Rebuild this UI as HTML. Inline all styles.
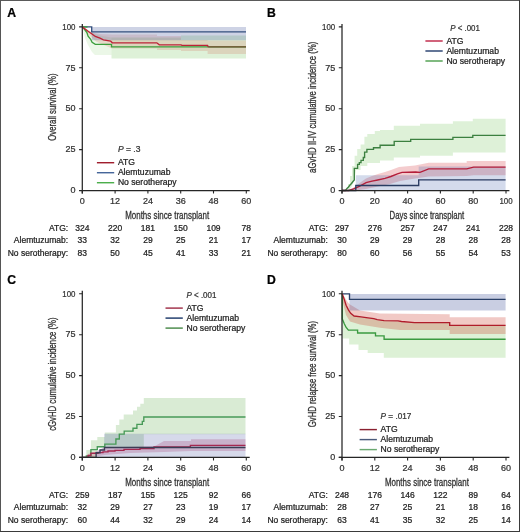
<!DOCTYPE html><html><head><meta charset="utf-8"><style>html,body{margin:0;padding:0;background:#fff;width:520px;height:532px;overflow:hidden;}svg{display:block;will-change:transform;}text{font-family:"Liberation Sans", sans-serif;stroke:currentColor;stroke-width:0.24px;}</style></head><body>
<svg width="520" height="532" viewBox="0 0 520 532">
<rect x="0" y="0" width="520" height="532" fill="#fff"/>
<path d="M82.3,26.9 L85,28 L90,31 L95,34 L100,35.5 L111.5,37.5 L111.5,55 L95,55 L92,52 L88,45 L85,38 L83,30 Z" fill="#64be46" fill-opacity="0.13"/>
<path d="M111.5,37.5 L181,37.5 L181,35.5 L246,35.5 L246,58.6 L111.5,58.6 Z" fill="#64be46" fill-opacity="0.21"/>
<path d="M82.3,26.9 L88,30 L92,32.5 L100,34 L112,34.5 L157,34.5 L157,36 L181,36 L181,40 L207.6,40 L207.6,40.5 L246,40.5 L246,54 L207.6,54 L207.6,51 L181,51 L181,50 L157,50 L157,48.5 L112,48.5 L104,45 L96,41.5 L90,36 L86,31 Z" fill="#cd3c2d" fill-opacity="0.16"/>
<path d="M91.8,27.1 L246,27.1 L246,40.2 L91.8,40.2 Z" fill="#3c5096" fill-opacity="0.25"/>
<path d="M82.3,26.9 L83.5,28 L86.9,32.5 L88.1,36.1 L90.5,39 L92.1,42.2 L95.3,44.3 H111.5 V46.9 H246" stroke="#3c9e3c" stroke-width="1.35" fill="none" stroke-linejoin="miter"/>
<path d="M82.3,26.9 H91.7 V31.8 H246" stroke="#34507e" stroke-width="1.35" fill="none" stroke-linejoin="miter"/>
<path d="M82.3,26.9 H87.5" stroke="#3c9e3c" stroke-width="1.35" fill="none" stroke-linejoin="miter"/>
<path d="M82.3,26.9 L88,31.3 L92,34 L95.3,36.5 L100,38.2 L103.4,39.8 L110.7,41.2 L112.3,42.8 H156.8 L159.3,44.8 H181 L182,45.4 H207.6 L208.2,46.9" stroke="#bc2236" stroke-width="1.35" fill="none" stroke-linejoin="miter"/>
<path d="M208.2,46.9 H246" stroke="#7a4a30" stroke-width="1.35" fill="none" stroke-linejoin="miter"/>
<text x="117.9" y="152.39999999999998" font-size="8.5" fill="#333333" color="#333333" textLength="22.5" lengthAdjust="spacingAndGlyphs"><tspan font-style="italic">P</tspan> = .3</text>
<path d="M96.9,162.70 H114.2" stroke="#a01e2e" stroke-width="1.45"/>
<text x="117.9" y="165.30" font-size="8.6" fill="#222" color="#222">ATG</text>
<path d="M96.9,172.70 H114.2" stroke="#46669a" stroke-width="1.45"/>
<text x="117.9" y="175.30" font-size="8.6" fill="#222" color="#222">Alemtuzumab</text>
<path d="M96.9,182.70 H114.2" stroke="#4cae4c" stroke-width="1.45"/>
<text x="117.9" y="185.30" font-size="8.6" fill="#222" color="#222">No serotherapy</text>
<path d="M346,190.5 L348,190.5 L348,184 L350,184 L350,176 L352,176 L352,166 L354.6,166 L354.6,155.8 L357.2,155.8 L357.2,148.9 L360.6,148.9 L360.6,144.4 L364.4,144.4 L364.4,136.8 L367.3,136.8 L367.3,133.9 L374.8,133.9 L374.8,131 L380,131 L380,129.9 L393.8,129.9 L393.8,125.8 L420,125.8 L420,123.8 L452.9,123.8 L452.9,121.2 L472.8,121.2 L472.8,118.7 L505.6,118.7 L505.6,152.4 L452.9,152.4 L452.9,155.8 L420,155.8 L420,157.5 L393.8,157.5 L393.8,160.5 L380,160.5 L380,163 L367.3,163 L367.3,166 L360.6,166 L360.6,170 L356,170 L354.6,178 L352,186 L349,190.5 Z" fill="#64be46" fill-opacity="0.21"/>
<path d="M348,190.5 L352,188.5 L356,186 L361,182 L366,178.5 L372,176 L378,174 L385,172 L391,170 L399,167 L415,165.5 L428.7,162.8 L466.7,162.8 L466.7,161 L505.6,161 L505.6,175.2 L473.6,175.2 L466.7,176 L428.7,176.5 L415,178.5 L400,181 L390,184 L378,186.5 L366,189 L356,190.5 Z" fill="#d2323c" fill-opacity="0.25"/>
<path d="M355.8,190.5 L355.8,175.3 L418.7,175.3 L418.7,166.5 L505.6,166.5 L505.6,190.5 Z" fill="#3c5aaa" fill-opacity="0.22"/>
<path d="M342,190.5 H345.4 L347,188.5 L348.5,187 L350,185 L351.5,183.5 L353,181.5 L354.3,179.9 V168.4 H357.6 V164.3 H359.3 V162.6 H361 V160.3 H363.3 V157.5 H364.6 V152.1 H366.9 V149.3 H373.5 V147.7 H380.1 V145.2 H394.2 V141.4 H410.7 V139.4 H452.9 V137.3 H472.8 V135.4 H505.6" stroke="#3c8040" stroke-width="1.35" fill="none" stroke-linejoin="miter"/>
<path d="M342,190.5 H348.9 L353.5,188.9 L359.3,186.3 L366.1,182.7 L372,181.2 L377.7,180 L385,178.3 L390.9,176.5 L397.4,173.9 L402,172.4 L415.7,172 L420,172.3 L428.7,168.8 H466.7 L473.6,167.1 H505.6" stroke="#b41e3a" stroke-width="1.35" fill="none" stroke-linejoin="miter"/>
<path d="M342,190.5 H355.8 V185.5 H418.7 V179.8 H505.6" stroke="#2a3c62" stroke-width="1.35" fill="none" stroke-linejoin="miter"/>
<text x="450.29999999999995" y="30.7" font-size="8.5" fill="#333333" color="#333333" textLength="29.6" lengthAdjust="spacingAndGlyphs"><tspan font-style="italic">P</tspan> &lt; .001</text>
<path d="M425.4,41.00 H442.7" stroke="#c02848" stroke-width="1.45"/>
<text x="446.4" y="43.60" font-size="8.6" fill="#222" color="#222">ATG</text>
<path d="M425.4,51.00 H442.7" stroke="#284070" stroke-width="1.45"/>
<text x="446.4" y="53.60" font-size="8.6" fill="#222" color="#222">Alemtuzumab</text>
<path d="M425.4,61.00 H442.7" stroke="#50a050" stroke-width="1.45"/>
<text x="446.4" y="63.60" font-size="8.6" fill="#222" color="#222">No serotherapy</text>
<path d="M82.3,457.4 L86.3,457.4 L86.3,450 L90.9,450 L90.9,440.3 L97.3,440.3 L97.3,437 L104.8,437 L104.8,432.5 L115.9,432.5 L115.9,425 L119.3,425 L119.3,419.4 L123.7,419.4 L123.7,414.5 L133,414.5 L133,410.6 L137,410.6 L137,406.7 L140.3,406.7 L140.3,403.8 L143.8,403.8 L143.8,397.9 L245.5,397.9 L245.5,434.3 L143.8,434.3 L143.8,447.5 L97,447.5 L97,457.4 Z" fill="#5aaa46" fill-opacity="0.23"/>
<path d="M88,457.4 L88,454 L96,451.5 L105,447.5 L124,447 L155,446 L164,441 L191,441 L191,439.2 L245.5,439.2 L245.5,451 L191,451 L164,452 L130,453 L105,455 L96,456.5 L90,457.4 Z" fill="#be3264" fill-opacity="0.25"/>
<path d="M96.1,457.4 L96.1,452 L104.2,447 L104.2,433.8 L245.5,433.8 L245.5,457.4 Z" fill="#4650a0" fill-opacity="0.22"/>
<path d="M82.3,457.4 H86.3 V455.9 H90.9 V449.6 H97.3 V446.7 H104.8 V444.1 H115.9 V439 H119.3 V434.1 H124.2 V431.1 H133 V428.2 H136.9 V424.3 H142.3 V421.4 H143.8 V417 H245.5" stroke="#489a58" stroke-width="1.35" fill="none" stroke-linejoin="miter"/>
<path d="M82.3,457.4 H88 V455.5 H90.9 V453.2 H98 V452.6 H103 V451.8 H108 V451 H115 V450.4 H124 V449.4 H140 V448.6 H154 V446.8 H190.4 V445.3 H245.5" stroke="#a52850" stroke-width="1.35" fill="none" stroke-linejoin="miter"/>
<path d="M82.3,457.4 H96.1 V452.7 H100 V450 H104.5 V447.5 H245.5" stroke="#3a3d55" stroke-width="1.35" fill="none" stroke-linejoin="miter"/>
<text x="186.5" y="297.8" font-size="8.5" fill="#333333" color="#333333" textLength="29.9" lengthAdjust="spacingAndGlyphs"><tspan font-style="italic">P</tspan> &lt; .001</text>
<path d="M165.5,308.10 H182.8" stroke="#a03048" stroke-width="1.45"/>
<text x="186.5" y="310.70" font-size="8.6" fill="#222" color="#222">ATG</text>
<path d="M165.5,318.10 H182.8" stroke="#1e3a6a" stroke-width="1.45"/>
<text x="186.5" y="320.70" font-size="8.6" fill="#222" color="#222">Alemtuzumab</text>
<path d="M165.5,328.10 H182.8" stroke="#4a8a4a" stroke-width="1.45"/>
<text x="186.5" y="330.70" font-size="8.6" fill="#222" color="#222">No serotherapy</text>
<path d="M342.3,294 L343,297 L344.3,300 L346.1,306 L348.4,310.5 L350.7,314 L354.1,316.5 L361,317.3 L368,318.3 L373.8,319.1 L377.2,320.2 L384.1,321.1 L398,321.4 L401.5,322 L414.6,323.1 L449.7,323.1 L449.7,325.8 L505.6,325.8 L505.6,357.7 L383.8,357.7 L383.8,353 L367.7,353 L367.7,350 L358.5,350 L358.5,344.6 L349.2,344.6 L349.2,338.5 L342.3,338.5 Z" fill="#64be46" fill-opacity="0.22"/>
<path d="M342.3,293.8 L344,296 L346,299.5 L348,302.5 L350,304.6 L355,307.5 L360,310.5 L380,313.6 L449.7,314.3 L449.7,317.2 L505.6,317.2 L505.6,334 L449.7,334 L449.7,330 L400,330 L380,327.7 L360,324.6 L350,321.5 L346,315 L343,303 L342.3,295 Z" fill="#cd3c2d" fill-opacity="0.28"/>
<path d="M349.5,294.1 L505.6,294.1 L505.6,310.6 L349.5,310.6 Z" fill="#3c5096" fill-opacity="0.28"/>
<path d="M342.3,293.8 V319 L344.3,323.8 L346,327.2 L348.4,330.1 H357.6 V333 H375.5 V335.9 H384.1 V339.2 H505.6" stroke="#3a9a40" stroke-width="1.35" fill="none" stroke-linejoin="miter"/>
<path d="M342.3,293.8 H349.5 V299.4 H505.6" stroke="#2a4068" stroke-width="1.35" fill="none" stroke-linejoin="miter"/>
<path d="M342.3,293.8 L343,296 L344.3,299.5 L346.1,305.3 L348.4,309.9 L350.7,313.4 L354.1,316 L361,316.8 L368,317.8 L373.8,318.6 L377.2,319.7 L384.1,320.6 L398,320.9 L401.5,321.5 L414.6,322.6 H449.7 V325.3 H505.6" stroke="#b01c2a" stroke-width="1.35" fill="none" stroke-linejoin="miter"/>
<text x="380.6" y="419.3" font-size="8.5" fill="#333333" color="#333333" textLength="30.8" lengthAdjust="spacingAndGlyphs"><tspan font-style="italic">P</tspan> = .017</text>
<path d="M359.6,429.60 H376.90000000000003" stroke="#8a2030" stroke-width="1.45"/>
<text x="380.6" y="432.20" font-size="8.6" fill="#222" color="#222">ATG</text>
<path d="M359.6,439.60 H376.90000000000003" stroke="#4a5a7a" stroke-width="1.45"/>
<text x="380.6" y="442.20" font-size="8.6" fill="#222" color="#222">Alemtuzumab</text>
<path d="M359.6,449.60 H376.90000000000003" stroke="#6aa870" stroke-width="1.45"/>
<text x="380.6" y="452.20" font-size="8.6" fill="#222" color="#222">No serotherapy</text>
<text x="7.2" y="17.0" font-size="12.2" fill="#000" color="#000" font-weight="bold">A</text>
<path d="M82.3,23.9 V193.5 M79.1,190.5 H249.70000000000002" stroke="#262626" stroke-width="1.25" fill="none"/>
<path d="M79.1,190.50 H82.3 M79.1,149.60 H82.3 M79.1,108.70 H82.3 M79.1,67.80 H82.3 M79.1,26.90 H82.3 M82.30,190.5 V193.5 M115.10,190.5 V193.5 M147.90,190.5 V193.5 M180.70,190.5 V193.5 M213.50,190.5 V193.5 M246.30,190.5 V193.5 " stroke="#262626" stroke-width="1.1" fill="none"/>
<text x="75.5" y="193.20" font-size="9.0" fill="#333333" color="#333333" text-anchor="end">0</text>
<text x="75.5" y="152.30" font-size="9.0" fill="#333333" color="#333333" text-anchor="end">25</text>
<text x="75.5" y="111.40" font-size="9.0" fill="#333333" color="#333333" text-anchor="end">50</text>
<text x="75.5" y="70.50" font-size="9.0" fill="#333333" color="#333333" text-anchor="end">75</text>
<text x="75.5" y="29.60" font-size="9.0" fill="#333333" color="#333333" text-anchor="end" textLength="13.2" lengthAdjust="spacingAndGlyphs">100</text>
<text x="82.30" y="204.3" font-size="9.0" fill="#333333" color="#333333" text-anchor="middle">0</text>
<text x="115.10" y="204.3" font-size="9.0" fill="#333333" color="#333333" text-anchor="middle">12</text>
<text x="147.90" y="204.3" font-size="9.0" fill="#333333" color="#333333" text-anchor="middle">24</text>
<text x="180.70" y="204.3" font-size="9.0" fill="#333333" color="#333333" text-anchor="middle">36</text>
<text x="213.50" y="204.3" font-size="9.0" fill="#333333" color="#333333" text-anchor="middle">48</text>
<text x="246.30" y="204.3" font-size="9.0" fill="#333333" color="#333333" text-anchor="middle">60</text>
<text x="125.2" y="218.6" font-size="10.4" fill="#333333" color="#333333" textLength="84" lengthAdjust="spacingAndGlyphs" style="stroke-width:0.3px">Months since transplant</text>
<text transform="translate(56.4,107.1) rotate(-90)" font-size="10.4" fill="#333333" color="#333333" style="stroke-width:0.3px" text-anchor="middle" textLength="67.2" lengthAdjust="spacingAndGlyphs">Overall survival (%)</text>
<text x="68.2" y="231.00" font-size="8.5" fill="#222" color="#222" text-anchor="end">ATG:</text>
<text x="82.30" y="231.00" font-size="8.5" fill="#222" color="#222" text-anchor="middle">324</text>
<text x="115.10" y="231.00" font-size="8.5" fill="#222" color="#222" text-anchor="middle">220</text>
<text x="147.90" y="231.00" font-size="8.5" fill="#222" color="#222" text-anchor="middle">181</text>
<text x="180.70" y="231.00" font-size="8.5" fill="#222" color="#222" text-anchor="middle">150</text>
<text x="213.50" y="231.00" font-size="8.5" fill="#222" color="#222" text-anchor="middle">109</text>
<text x="246.30" y="231.00" font-size="8.5" fill="#222" color="#222" text-anchor="middle">78</text>
<text x="68.2" y="243.35" font-size="8.5" fill="#222" color="#222" text-anchor="end">Alemtuzumab:</text>
<text x="82.30" y="243.35" font-size="8.5" fill="#222" color="#222" text-anchor="middle">33</text>
<text x="115.10" y="243.35" font-size="8.5" fill="#222" color="#222" text-anchor="middle">32</text>
<text x="147.90" y="243.35" font-size="8.5" fill="#222" color="#222" text-anchor="middle">29</text>
<text x="180.70" y="243.35" font-size="8.5" fill="#222" color="#222" text-anchor="middle">25</text>
<text x="213.50" y="243.35" font-size="8.5" fill="#222" color="#222" text-anchor="middle">21</text>
<text x="246.30" y="243.35" font-size="8.5" fill="#222" color="#222" text-anchor="middle">17</text>
<text x="68.2" y="255.70" font-size="8.5" fill="#222" color="#222" text-anchor="end">No serotherapy:</text>
<text x="82.30" y="255.70" font-size="8.5" fill="#222" color="#222" text-anchor="middle">83</text>
<text x="115.10" y="255.70" font-size="8.5" fill="#222" color="#222" text-anchor="middle">50</text>
<text x="147.90" y="255.70" font-size="8.5" fill="#222" color="#222" text-anchor="middle">45</text>
<text x="180.70" y="255.70" font-size="8.5" fill="#222" color="#222" text-anchor="middle">41</text>
<text x="213.50" y="255.70" font-size="8.5" fill="#222" color="#222" text-anchor="middle">33</text>
<text x="246.30" y="255.70" font-size="8.5" fill="#222" color="#222" text-anchor="middle">21</text>
<text x="266.9" y="17.0" font-size="12.2" fill="#000" color="#000" font-weight="bold">B</text>
<path d="M342.0,23.9 V193.5 M338.8,190.5 H509.4" stroke="#262626" stroke-width="1.25" fill="none"/>
<path d="M338.8,190.50 H342.0 M338.8,149.60 H342.0 M338.8,108.70 H342.0 M338.8,67.80 H342.0 M338.8,26.90 H342.0 M342.00,190.5 V193.5 M374.80,190.5 V193.5 M407.60,190.5 V193.5 M440.40,190.5 V193.5 M473.20,190.5 V193.5 M506.00,190.5 V193.5 " stroke="#262626" stroke-width="1.1" fill="none"/>
<text x="335.2" y="193.20" font-size="9.0" fill="#333333" color="#333333" text-anchor="end">0</text>
<text x="335.2" y="152.30" font-size="9.0" fill="#333333" color="#333333" text-anchor="end">25</text>
<text x="335.2" y="111.40" font-size="9.0" fill="#333333" color="#333333" text-anchor="end">50</text>
<text x="335.2" y="70.50" font-size="9.0" fill="#333333" color="#333333" text-anchor="end">75</text>
<text x="335.2" y="29.60" font-size="9.0" fill="#333333" color="#333333" text-anchor="end" textLength="13.2" lengthAdjust="spacingAndGlyphs">100</text>
<text x="342.00" y="204.3" font-size="9.0" fill="#333333" color="#333333" text-anchor="middle">0</text>
<text x="374.80" y="204.3" font-size="9.0" fill="#333333" color="#333333" text-anchor="middle">20</text>
<text x="407.60" y="204.3" font-size="9.0" fill="#333333" color="#333333" text-anchor="middle">40</text>
<text x="440.40" y="204.3" font-size="9.0" fill="#333333" color="#333333" text-anchor="middle">60</text>
<text x="473.20" y="204.3" font-size="9.0" fill="#333333" color="#333333" text-anchor="middle">80</text>
<text x="506.00" y="204.3" font-size="9.0" fill="#333333" color="#333333" text-anchor="middle" textLength="13.2" lengthAdjust="spacingAndGlyphs">100</text>
<text x="389.6" y="218.6" font-size="10.4" fill="#333333" color="#333333" textLength="74.6" lengthAdjust="spacingAndGlyphs" style="stroke-width:0.3px">Days since transplant</text>
<text transform="translate(316.09999999999997,107.3) rotate(-90)" font-size="10.4" fill="#333333" color="#333333" style="stroke-width:0.3px" text-anchor="middle" textLength="131.2" lengthAdjust="spacingAndGlyphs">aGvHD II-IV cumulative incidence (%)</text>
<text x="327.9" y="231.00" font-size="8.5" fill="#222" color="#222" text-anchor="end">ATG:</text>
<text x="342.00" y="231.00" font-size="8.5" fill="#222" color="#222" text-anchor="middle">297</text>
<text x="374.80" y="231.00" font-size="8.5" fill="#222" color="#222" text-anchor="middle">276</text>
<text x="407.60" y="231.00" font-size="8.5" fill="#222" color="#222" text-anchor="middle">257</text>
<text x="440.40" y="231.00" font-size="8.5" fill="#222" color="#222" text-anchor="middle">247</text>
<text x="473.20" y="231.00" font-size="8.5" fill="#222" color="#222" text-anchor="middle">241</text>
<text x="506.00" y="231.00" font-size="8.5" fill="#222" color="#222" text-anchor="middle">228</text>
<text x="327.9" y="243.35" font-size="8.5" fill="#222" color="#222" text-anchor="end">Alemtuzumab:</text>
<text x="342.00" y="243.35" font-size="8.5" fill="#222" color="#222" text-anchor="middle">30</text>
<text x="374.80" y="243.35" font-size="8.5" fill="#222" color="#222" text-anchor="middle">29</text>
<text x="407.60" y="243.35" font-size="8.5" fill="#222" color="#222" text-anchor="middle">29</text>
<text x="440.40" y="243.35" font-size="8.5" fill="#222" color="#222" text-anchor="middle">28</text>
<text x="473.20" y="243.35" font-size="8.5" fill="#222" color="#222" text-anchor="middle">28</text>
<text x="506.00" y="243.35" font-size="8.5" fill="#222" color="#222" text-anchor="middle">28</text>
<text x="327.9" y="255.70" font-size="8.5" fill="#222" color="#222" text-anchor="end">No serotherapy:</text>
<text x="342.00" y="255.70" font-size="8.5" fill="#222" color="#222" text-anchor="middle">80</text>
<text x="374.80" y="255.70" font-size="8.5" fill="#222" color="#222" text-anchor="middle">60</text>
<text x="407.60" y="255.70" font-size="8.5" fill="#222" color="#222" text-anchor="middle">56</text>
<text x="440.40" y="255.70" font-size="8.5" fill="#222" color="#222" text-anchor="middle">55</text>
<text x="473.20" y="255.70" font-size="8.5" fill="#222" color="#222" text-anchor="middle">54</text>
<text x="506.00" y="255.70" font-size="8.5" fill="#222" color="#222" text-anchor="middle">53</text>
<text x="7.2" y="283.9" font-size="12.2" fill="#000" color="#000" font-weight="bold">C</text>
<path d="M82.3,290.79999999999995 V460.4 M79.1,457.4 H249.70000000000002" stroke="#262626" stroke-width="1.25" fill="none"/>
<path d="M79.1,457.40 H82.3 M79.1,416.50 H82.3 M79.1,375.60 H82.3 M79.1,334.70 H82.3 M79.1,293.80 H82.3 M82.30,457.4 V460.4 M115.10,457.4 V460.4 M147.90,457.4 V460.4 M180.70,457.4 V460.4 M213.50,457.4 V460.4 M246.30,457.4 V460.4 " stroke="#262626" stroke-width="1.1" fill="none"/>
<text x="75.5" y="460.10" font-size="9.0" fill="#333333" color="#333333" text-anchor="end">0</text>
<text x="75.5" y="419.20" font-size="9.0" fill="#333333" color="#333333" text-anchor="end">25</text>
<text x="75.5" y="378.30" font-size="9.0" fill="#333333" color="#333333" text-anchor="end">50</text>
<text x="75.5" y="337.40" font-size="9.0" fill="#333333" color="#333333" text-anchor="end">75</text>
<text x="75.5" y="296.50" font-size="9.0" fill="#333333" color="#333333" text-anchor="end" textLength="13.2" lengthAdjust="spacingAndGlyphs">100</text>
<text x="82.30" y="471.2" font-size="9.0" fill="#333333" color="#333333" text-anchor="middle">0</text>
<text x="115.10" y="471.2" font-size="9.0" fill="#333333" color="#333333" text-anchor="middle">12</text>
<text x="147.90" y="471.2" font-size="9.0" fill="#333333" color="#333333" text-anchor="middle">24</text>
<text x="180.70" y="471.2" font-size="9.0" fill="#333333" color="#333333" text-anchor="middle">36</text>
<text x="213.50" y="471.2" font-size="9.0" fill="#333333" color="#333333" text-anchor="middle">48</text>
<text x="246.30" y="471.2" font-size="9.0" fill="#333333" color="#333333" text-anchor="middle">60</text>
<text x="125.2" y="485.5" font-size="10.4" fill="#333333" color="#333333" textLength="84" lengthAdjust="spacingAndGlyphs" style="stroke-width:0.3px">Months since transplant</text>
<text transform="translate(56.4,374.09999999999997) rotate(-90)" font-size="10.4" fill="#333333" color="#333333" style="stroke-width:0.3px" text-anchor="middle" textLength="113.4" lengthAdjust="spacingAndGlyphs">cGvHD cumulative incidence (%)</text>
<text x="68.2" y="497.90" font-size="8.5" fill="#222" color="#222" text-anchor="end">ATG:</text>
<text x="82.30" y="497.90" font-size="8.5" fill="#222" color="#222" text-anchor="middle">259</text>
<text x="115.10" y="497.90" font-size="8.5" fill="#222" color="#222" text-anchor="middle">187</text>
<text x="147.90" y="497.90" font-size="8.5" fill="#222" color="#222" text-anchor="middle">155</text>
<text x="180.70" y="497.90" font-size="8.5" fill="#222" color="#222" text-anchor="middle">125</text>
<text x="213.50" y="497.90" font-size="8.5" fill="#222" color="#222" text-anchor="middle">92</text>
<text x="246.30" y="497.90" font-size="8.5" fill="#222" color="#222" text-anchor="middle">66</text>
<text x="68.2" y="510.25" font-size="8.5" fill="#222" color="#222" text-anchor="end">Alemtuzumab:</text>
<text x="82.30" y="510.25" font-size="8.5" fill="#222" color="#222" text-anchor="middle">32</text>
<text x="115.10" y="510.25" font-size="8.5" fill="#222" color="#222" text-anchor="middle">29</text>
<text x="147.90" y="510.25" font-size="8.5" fill="#222" color="#222" text-anchor="middle">27</text>
<text x="180.70" y="510.25" font-size="8.5" fill="#222" color="#222" text-anchor="middle">23</text>
<text x="213.50" y="510.25" font-size="8.5" fill="#222" color="#222" text-anchor="middle">19</text>
<text x="246.30" y="510.25" font-size="8.5" fill="#222" color="#222" text-anchor="middle">17</text>
<text x="68.2" y="522.60" font-size="8.5" fill="#222" color="#222" text-anchor="end">No serotherapy:</text>
<text x="82.30" y="522.60" font-size="8.5" fill="#222" color="#222" text-anchor="middle">60</text>
<text x="115.10" y="522.60" font-size="8.5" fill="#222" color="#222" text-anchor="middle">44</text>
<text x="147.90" y="522.60" font-size="8.5" fill="#222" color="#222" text-anchor="middle">32</text>
<text x="180.70" y="522.60" font-size="8.5" fill="#222" color="#222" text-anchor="middle">29</text>
<text x="213.50" y="522.60" font-size="8.5" fill="#222" color="#222" text-anchor="middle">24</text>
<text x="246.30" y="522.60" font-size="8.5" fill="#222" color="#222" text-anchor="middle">14</text>
<text x="266.9" y="283.9" font-size="12.2" fill="#000" color="#000" font-weight="bold">D</text>
<path d="M342.0,290.79999999999995 V460.4 M338.8,457.4 H509.4" stroke="#262626" stroke-width="1.25" fill="none"/>
<path d="M338.8,457.40 H342.0 M338.8,416.50 H342.0 M338.8,375.60 H342.0 M338.8,334.70 H342.0 M338.8,293.80 H342.0 M342.00,457.4 V460.4 M374.80,457.4 V460.4 M407.60,457.4 V460.4 M440.40,457.4 V460.4 M473.20,457.4 V460.4 M506.00,457.4 V460.4 " stroke="#262626" stroke-width="1.1" fill="none"/>
<text x="335.2" y="460.10" font-size="9.0" fill="#333333" color="#333333" text-anchor="end">0</text>
<text x="335.2" y="419.20" font-size="9.0" fill="#333333" color="#333333" text-anchor="end">25</text>
<text x="335.2" y="378.30" font-size="9.0" fill="#333333" color="#333333" text-anchor="end">50</text>
<text x="335.2" y="337.40" font-size="9.0" fill="#333333" color="#333333" text-anchor="end">75</text>
<text x="335.2" y="296.50" font-size="9.0" fill="#333333" color="#333333" text-anchor="end" textLength="13.2" lengthAdjust="spacingAndGlyphs">100</text>
<text x="342.00" y="471.2" font-size="9.0" fill="#333333" color="#333333" text-anchor="middle">0</text>
<text x="374.80" y="471.2" font-size="9.0" fill="#333333" color="#333333" text-anchor="middle">12</text>
<text x="407.60" y="471.2" font-size="9.0" fill="#333333" color="#333333" text-anchor="middle">24</text>
<text x="440.40" y="471.2" font-size="9.0" fill="#333333" color="#333333" text-anchor="middle">36</text>
<text x="473.20" y="471.2" font-size="9.0" fill="#333333" color="#333333" text-anchor="middle">48</text>
<text x="506.00" y="471.2" font-size="9.0" fill="#333333" color="#333333" text-anchor="middle">60</text>
<text x="384.9" y="485.5" font-size="10.4" fill="#333333" color="#333333" textLength="84" lengthAdjust="spacingAndGlyphs" style="stroke-width:0.3px">Months since transplant</text>
<text transform="translate(316.09999999999997,374.09999999999997) rotate(-90)" font-size="10.4" fill="#333333" color="#333333" style="stroke-width:0.3px" text-anchor="middle" textLength="106.2" lengthAdjust="spacingAndGlyphs">GvHD relapse free survival (%)</text>
<text x="327.9" y="497.90" font-size="8.5" fill="#222" color="#222" text-anchor="end">ATG:</text>
<text x="342.00" y="497.90" font-size="8.5" fill="#222" color="#222" text-anchor="middle">248</text>
<text x="374.80" y="497.90" font-size="8.5" fill="#222" color="#222" text-anchor="middle">176</text>
<text x="407.60" y="497.90" font-size="8.5" fill="#222" color="#222" text-anchor="middle">146</text>
<text x="440.40" y="497.90" font-size="8.5" fill="#222" color="#222" text-anchor="middle">122</text>
<text x="473.20" y="497.90" font-size="8.5" fill="#222" color="#222" text-anchor="middle">89</text>
<text x="506.00" y="497.90" font-size="8.5" fill="#222" color="#222" text-anchor="middle">64</text>
<text x="327.9" y="510.25" font-size="8.5" fill="#222" color="#222" text-anchor="end">Alemtuzumab:</text>
<text x="342.00" y="510.25" font-size="8.5" fill="#222" color="#222" text-anchor="middle">28</text>
<text x="374.80" y="510.25" font-size="8.5" fill="#222" color="#222" text-anchor="middle">27</text>
<text x="407.60" y="510.25" font-size="8.5" fill="#222" color="#222" text-anchor="middle">25</text>
<text x="440.40" y="510.25" font-size="8.5" fill="#222" color="#222" text-anchor="middle">21</text>
<text x="473.20" y="510.25" font-size="8.5" fill="#222" color="#222" text-anchor="middle">18</text>
<text x="506.00" y="510.25" font-size="8.5" fill="#222" color="#222" text-anchor="middle">16</text>
<text x="327.9" y="522.60" font-size="8.5" fill="#222" color="#222" text-anchor="end">No serotherapy:</text>
<text x="342.00" y="522.60" font-size="8.5" fill="#222" color="#222" text-anchor="middle">63</text>
<text x="374.80" y="522.60" font-size="8.5" fill="#222" color="#222" text-anchor="middle">41</text>
<text x="407.60" y="522.60" font-size="8.5" fill="#222" color="#222" text-anchor="middle">35</text>
<text x="440.40" y="522.60" font-size="8.5" fill="#222" color="#222" text-anchor="middle">32</text>
<text x="473.20" y="522.60" font-size="8.5" fill="#222" color="#222" text-anchor="middle">25</text>
<text x="506.00" y="522.60" font-size="8.5" fill="#222" color="#222" text-anchor="middle">14</text>
<path d="M0,0.5 H520" stroke="#5a5a5a" stroke-width="1"/><path d="M0.5,0 V532" stroke="#555" stroke-width="1"/><path d="M519.5,0 V532" stroke="#3a3a3a" stroke-width="1"/><path d="M0,531.5 H520" stroke="#3a3a3a" stroke-width="1"/>
</svg></body></html>
